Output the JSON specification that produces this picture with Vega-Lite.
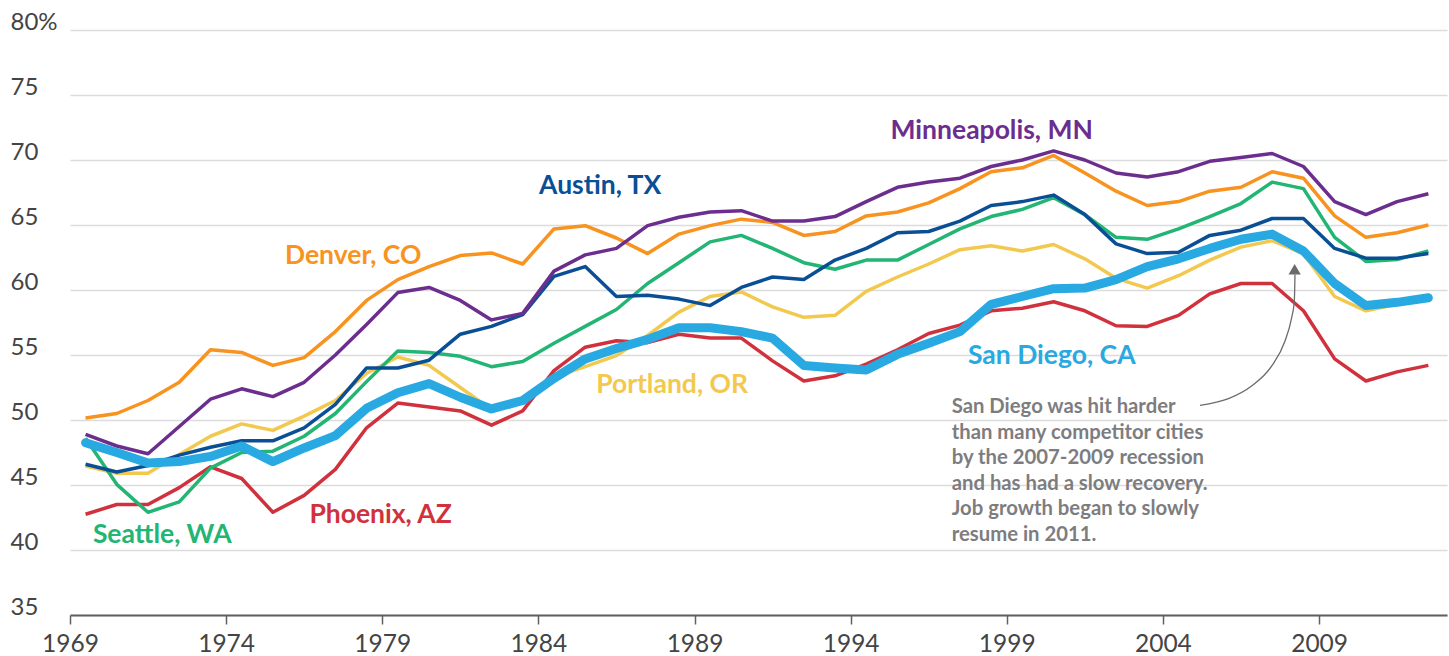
{
"$schema": "https://vega.github.io/schema/vega-lite/v6.json",
"width": 1377, "height": 585,
"autosize": {"type": "none"},
"padding": {"left": 70, "top": 30, "right": 2, "bottom": 41},
"background": "white",
"config": {"view": {"stroke": null}, "font": "Lato"},
"datasets": {
"series": [
{"city":"Phoenix, AZ","date":"1969-07-02","v":42.75},{"city":"Phoenix, AZ","date":"1970-07-02","v":43.5},{"city":"Phoenix, AZ","date":"1971-07-02","v":43.5},{"city":"Phoenix, AZ","date":"1972-07-02","v":44.8},{"city":"Phoenix, AZ","date":"1973-07-02","v":46.4},{"city":"Phoenix, AZ","date":"1974-07-02","v":45.5},{"city":"Phoenix, AZ","date":"1975-07-02","v":42.9},{"city":"Phoenix, AZ","date":"1976-07-02","v":44.2},{"city":"Phoenix, AZ","date":"1977-07-02","v":46.2},{"city":"Phoenix, AZ","date":"1978-07-02","v":49.4},
{"city":"Phoenix, AZ","date":"1979-07-02","v":51.3},{"city":"Phoenix, AZ","date":"1980-07-02","v":51.0},{"city":"Phoenix, AZ","date":"1981-07-02","v":50.7},{"city":"Phoenix, AZ","date":"1982-07-02","v":49.6},{"city":"Phoenix, AZ","date":"1983-07-02","v":50.7},{"city":"Phoenix, AZ","date":"1984-07-02","v":53.8},{"city":"Phoenix, AZ","date":"1985-07-02","v":55.6},{"city":"Phoenix, AZ","date":"1986-07-02","v":56.1},{"city":"Phoenix, AZ","date":"1987-07-02","v":55.95},{"city":"Phoenix, AZ","date":"1988-07-02","v":56.6},
{"city":"Phoenix, AZ","date":"1989-07-02","v":56.3},{"city":"Phoenix, AZ","date":"1990-07-02","v":56.3},{"city":"Phoenix, AZ","date":"1991-07-02","v":54.55},{"city":"Phoenix, AZ","date":"1992-07-02","v":53.0},{"city":"Phoenix, AZ","date":"1993-07-02","v":53.4},{"city":"Phoenix, AZ","date":"1994-07-02","v":54.3},{"city":"Phoenix, AZ","date":"1995-07-02","v":55.4},{"city":"Phoenix, AZ","date":"1996-07-02","v":56.65},{"city":"Phoenix, AZ","date":"1997-07-02","v":57.3},{"city":"Phoenix, AZ","date":"1998-07-02","v":58.4},
{"city":"Phoenix, AZ","date":"1999-07-02","v":58.6},{"city":"Phoenix, AZ","date":"2000-07-02","v":59.1},{"city":"Phoenix, AZ","date":"2001-07-02","v":58.4},{"city":"Phoenix, AZ","date":"2002-07-02","v":57.25},{"city":"Phoenix, AZ","date":"2003-07-02","v":57.2},{"city":"Phoenix, AZ","date":"2004-07-02","v":58.05},{"city":"Phoenix, AZ","date":"2005-07-02","v":59.7},{"city":"Phoenix, AZ","date":"2006-07-02","v":60.5},{"city":"Phoenix, AZ","date":"2007-07-02","v":60.5},{"city":"Phoenix, AZ","date":"2008-07-02","v":58.4},
{"city":"Phoenix, AZ","date":"2009-07-02","v":54.7},{"city":"Phoenix, AZ","date":"2010-07-02","v":53.0},{"city":"Phoenix, AZ","date":"2011-07-02","v":53.7},{"city":"Phoenix, AZ","date":"2012-07-02","v":54.2},

{"city":"Portland, OR","date":"1969-07-02","v":46.45},{"city":"Portland, OR","date":"1970-07-02","v":45.9},{"city":"Portland, OR","date":"1971-07-02","v":45.9},{"city":"Portland, OR","date":"1972-07-02","v":47.35},{"city":"Portland, OR","date":"1973-07-02","v":48.75},{"city":"Portland, OR","date":"1974-07-02","v":49.7},{"city":"Portland, OR","date":"1975-07-02","v":49.2},{"city":"Portland, OR","date":"1976-07-02","v":50.3},{"city":"Portland, OR","date":"1977-07-02","v":51.5},{"city":"Portland, OR","date":"1978-07-02","v":53.6},
{"city":"Portland, OR","date":"1979-07-02","v":54.85},{"city":"Portland, OR","date":"1980-07-02","v":54.2},{"city":"Portland, OR","date":"1981-07-02","v":52.5},{"city":"Portland, OR","date":"1982-07-02","v":50.8},{"city":"Portland, OR","date":"1983-07-02","v":51.3},{"city":"Portland, OR","date":"1984-07-02","v":53.3},{"city":"Portland, OR","date":"1985-07-02","v":54.1},{"city":"Portland, OR","date":"1986-07-02","v":54.95},{"city":"Portland, OR","date":"1987-07-02","v":56.5},{"city":"Portland, OR","date":"1988-07-02","v":58.3},
{"city":"Portland, OR","date":"1989-07-02","v":59.5},{"city":"Portland, OR","date":"1990-07-02","v":59.85},{"city":"Portland, OR","date":"1991-07-02","v":58.7},{"city":"Portland, OR","date":"1992-07-02","v":57.9},{"city":"Portland, OR","date":"1993-07-02","v":58.05},{"city":"Portland, OR","date":"1994-07-02","v":59.9},{"city":"Portland, OR","date":"1995-07-02","v":61.0},{"city":"Portland, OR","date":"1996-07-02","v":62.0},{"city":"Portland, OR","date":"1997-07-02","v":63.1},{"city":"Portland, OR","date":"1998-07-02","v":63.4},
{"city":"Portland, OR","date":"1999-07-02","v":63.0},{"city":"Portland, OR","date":"2000-07-02","v":63.5},{"city":"Portland, OR","date":"2001-07-02","v":62.4},{"city":"Portland, OR","date":"2002-07-02","v":60.9},{"city":"Portland, OR","date":"2003-07-02","v":60.15},{"city":"Portland, OR","date":"2004-07-02","v":61.1},{"city":"Portland, OR","date":"2005-07-02","v":62.3},{"city":"Portland, OR","date":"2006-07-02","v":63.3},{"city":"Portland, OR","date":"2007-07-02","v":63.8},{"city":"Portland, OR","date":"2008-07-02","v":62.8},
{"city":"Portland, OR","date":"2009-07-02","v":59.5},{"city":"Portland, OR","date":"2010-07-02","v":58.4},{"city":"Portland, OR","date":"2011-07-02","v":58.9},{"city":"Portland, OR","date":"2012-07-02","v":59.3},

{"city":"Seattle, WA","date":"1969-07-02","v":48.6},{"city":"Seattle, WA","date":"1970-07-02","v":45.05},{"city":"Seattle, WA","date":"1971-07-02","v":42.9},{"city":"Seattle, WA","date":"1972-07-02","v":43.7},{"city":"Seattle, WA","date":"1973-07-02","v":46.3},{"city":"Seattle, WA","date":"1974-07-02","v":47.5},{"city":"Seattle, WA","date":"1975-07-02","v":47.6},{"city":"Seattle, WA","date":"1976-07-02","v":48.75},{"city":"Seattle, WA","date":"1977-07-02","v":50.5},{"city":"Seattle, WA","date":"1978-07-02","v":52.95},
{"city":"Seattle, WA","date":"1979-07-02","v":55.3},{"city":"Seattle, WA","date":"1980-07-02","v":55.2},{"city":"Seattle, WA","date":"1981-07-02","v":54.9},{"city":"Seattle, WA","date":"1982-07-02","v":54.1},{"city":"Seattle, WA","date":"1983-07-02","v":54.5},{"city":"Seattle, WA","date":"1984-07-02","v":55.9},{"city":"Seattle, WA","date":"1985-07-02","v":57.2},{"city":"Seattle, WA","date":"1986-07-02","v":58.5},{"city":"Seattle, WA","date":"1987-07-02","v":60.5},{"city":"Seattle, WA","date":"1988-07-02","v":62.1},
{"city":"Seattle, WA","date":"1989-07-02","v":63.7},{"city":"Seattle, WA","date":"1990-07-02","v":64.2},{"city":"Seattle, WA","date":"1991-07-02","v":63.2},{"city":"Seattle, WA","date":"1992-07-02","v":62.1},{"city":"Seattle, WA","date":"1993-07-02","v":61.6},{"city":"Seattle, WA","date":"1994-07-02","v":62.3},{"city":"Seattle, WA","date":"1995-07-02","v":62.3},{"city":"Seattle, WA","date":"1996-07-02","v":63.5},{"city":"Seattle, WA","date":"1997-07-02","v":64.7},{"city":"Seattle, WA","date":"1998-07-02","v":65.65},
{"city":"Seattle, WA","date":"1999-07-02","v":66.2},{"city":"Seattle, WA","date":"2000-07-02","v":67.1},{"city":"Seattle, WA","date":"2001-07-02","v":65.8},{"city":"Seattle, WA","date":"2002-07-02","v":64.05},{"city":"Seattle, WA","date":"2003-07-02","v":63.9},{"city":"Seattle, WA","date":"2004-07-02","v":64.7},{"city":"Seattle, WA","date":"2005-07-02","v":65.65},{"city":"Seattle, WA","date":"2006-07-02","v":66.65},{"city":"Seattle, WA","date":"2007-07-02","v":68.3},{"city":"Seattle, WA","date":"2008-07-02","v":67.8},
{"city":"Seattle, WA","date":"2009-07-02","v":64.05},{"city":"Seattle, WA","date":"2010-07-02","v":62.2},{"city":"Seattle, WA","date":"2011-07-02","v":62.35},{"city":"Seattle, WA","date":"2012-07-02","v":63.0},

{"city":"Austin, TX","date":"1969-07-02","v":46.6},{"city":"Austin, TX","date":"1970-07-02","v":46.0},{"city":"Austin, TX","date":"1971-07-02","v":46.5},{"city":"Austin, TX","date":"1972-07-02","v":47.3},{"city":"Austin, TX","date":"1973-07-02","v":47.9},{"city":"Austin, TX","date":"1974-07-02","v":48.4},{"city":"Austin, TX","date":"1975-07-02","v":48.4},{"city":"Austin, TX","date":"1976-07-02","v":49.4},{"city":"Austin, TX","date":"1977-07-02","v":51.2},{"city":"Austin, TX","date":"1978-07-02","v":54.0},
{"city":"Austin, TX","date":"1979-07-02","v":54.0},{"city":"Austin, TX","date":"1980-07-02","v":54.6},{"city":"Austin, TX","date":"1981-07-02","v":56.6},{"city":"Austin, TX","date":"1982-07-02","v":57.2},{"city":"Austin, TX","date":"1983-07-02","v":58.1},{"city":"Austin, TX","date":"1984-07-02","v":61.05},{"city":"Austin, TX","date":"1985-07-02","v":61.8},{"city":"Austin, TX","date":"1986-07-02","v":59.5},{"city":"Austin, TX","date":"1987-07-02","v":59.6},{"city":"Austin, TX","date":"1988-07-02","v":59.3},
{"city":"Austin, TX","date":"1989-07-02","v":58.8},{"city":"Austin, TX","date":"1990-07-02","v":60.2},{"city":"Austin, TX","date":"1991-07-02","v":61.0},{"city":"Austin, TX","date":"1992-07-02","v":60.8},{"city":"Austin, TX","date":"1993-07-02","v":62.3},{"city":"Austin, TX","date":"1994-07-02","v":63.2},{"city":"Austin, TX","date":"1995-07-02","v":64.4},{"city":"Austin, TX","date":"1996-07-02","v":64.5},{"city":"Austin, TX","date":"1997-07-02","v":65.3},{"city":"Austin, TX","date":"1998-07-02","v":66.5},
{"city":"Austin, TX","date":"1999-07-02","v":66.8},{"city":"Austin, TX","date":"2000-07-02","v":67.3},{"city":"Austin, TX","date":"2001-07-02","v":65.8},{"city":"Austin, TX","date":"2002-07-02","v":63.55},{"city":"Austin, TX","date":"2003-07-02","v":62.8},{"city":"Austin, TX","date":"2004-07-02","v":62.9},{"city":"Austin, TX","date":"2005-07-02","v":64.2},{"city":"Austin, TX","date":"2006-07-02","v":64.6},{"city":"Austin, TX","date":"2007-07-02","v":65.5},{"city":"Austin, TX","date":"2008-07-02","v":65.5},
{"city":"Austin, TX","date":"2009-07-02","v":63.2},{"city":"Austin, TX","date":"2010-07-02","v":62.45},{"city":"Austin, TX","date":"2011-07-02","v":62.45},{"city":"Austin, TX","date":"2012-07-02","v":62.8},

{"city":"Denver, CO","date":"1969-07-02","v":50.15},{"city":"Denver, CO","date":"1970-07-02","v":50.5},{"city":"Denver, CO","date":"1971-07-02","v":51.5},{"city":"Denver, CO","date":"1972-07-02","v":52.9},{"city":"Denver, CO","date":"1973-07-02","v":55.4},{"city":"Denver, CO","date":"1974-07-02","v":55.2},{"city":"Denver, CO","date":"1975-07-02","v":54.2},{"city":"Denver, CO","date":"1976-07-02","v":54.8},{"city":"Denver, CO","date":"1977-07-02","v":56.8},{"city":"Denver, CO","date":"1978-07-02","v":59.2},
{"city":"Denver, CO","date":"1979-07-02","v":60.8},{"city":"Denver, CO","date":"1980-07-02","v":61.8},{"city":"Denver, CO","date":"1981-07-02","v":62.65},{"city":"Denver, CO","date":"1982-07-02","v":62.85},{"city":"Denver, CO","date":"1983-07-02","v":62.0},{"city":"Denver, CO","date":"1984-07-02","v":64.7},{"city":"Denver, CO","date":"1985-07-02","v":64.95},{"city":"Denver, CO","date":"1986-07-02","v":64.0},{"city":"Denver, CO","date":"1987-07-02","v":62.8},{"city":"Denver, CO","date":"1988-07-02","v":64.3},
{"city":"Denver, CO","date":"1989-07-02","v":64.95},{"city":"Denver, CO","date":"1990-07-02","v":65.45},{"city":"Denver, CO","date":"1991-07-02","v":65.2},{"city":"Denver, CO","date":"1992-07-02","v":64.2},{"city":"Denver, CO","date":"1993-07-02","v":64.5},{"city":"Denver, CO","date":"1994-07-02","v":65.7},{"city":"Denver, CO","date":"1995-07-02","v":66.0},{"city":"Denver, CO","date":"1996-07-02","v":66.7},{"city":"Denver, CO","date":"1997-07-02","v":67.8},{"city":"Denver, CO","date":"1998-07-02","v":69.1},
{"city":"Denver, CO","date":"1999-07-02","v":69.4},{"city":"Denver, CO","date":"2000-07-02","v":70.35},{"city":"Denver, CO","date":"2001-07-02","v":69.0},{"city":"Denver, CO","date":"2002-07-02","v":67.6},{"city":"Denver, CO","date":"2003-07-02","v":66.5},{"city":"Denver, CO","date":"2004-07-02","v":66.8},{"city":"Denver, CO","date":"2005-07-02","v":67.6},{"city":"Denver, CO","date":"2006-07-02","v":67.9},{"city":"Denver, CO","date":"2007-07-02","v":69.1},{"city":"Denver, CO","date":"2008-07-02","v":68.6},
{"city":"Denver, CO","date":"2009-07-02","v":65.7},{"city":"Denver, CO","date":"2010-07-02","v":64.05},{"city":"Denver, CO","date":"2011-07-02","v":64.4},{"city":"Denver, CO","date":"2012-07-02","v":65.0},

{"city":"Minneapolis, MN","date":"1969-07-02","v":48.9},{"city":"Minneapolis, MN","date":"1970-07-02","v":48.0},{"city":"Minneapolis, MN","date":"1971-07-02","v":47.4},{"city":"Minneapolis, MN","date":"1972-07-02","v":49.5},{"city":"Minneapolis, MN","date":"1973-07-02","v":51.6},{"city":"Minneapolis, MN","date":"1974-07-02","v":52.4},{"city":"Minneapolis, MN","date":"1975-07-02","v":51.8},{"city":"Minneapolis, MN","date":"1976-07-02","v":52.9},{"city":"Minneapolis, MN","date":"1977-07-02","v":55.0},{"city":"Minneapolis, MN","date":"1978-07-02","v":57.35},
{"city":"Minneapolis, MN","date":"1979-07-02","v":59.8},{"city":"Minneapolis, MN","date":"1980-07-02","v":60.2},{"city":"Minneapolis, MN","date":"1981-07-02","v":59.2},{"city":"Minneapolis, MN","date":"1982-07-02","v":57.7},{"city":"Minneapolis, MN","date":"1983-07-02","v":58.2},{"city":"Minneapolis, MN","date":"1984-07-02","v":61.45},{"city":"Minneapolis, MN","date":"1985-07-02","v":62.7},{"city":"Minneapolis, MN","date":"1986-07-02","v":63.2},{"city":"Minneapolis, MN","date":"1987-07-02","v":64.95},{"city":"Minneapolis, MN","date":"1988-07-02","v":65.6},
{"city":"Minneapolis, MN","date":"1989-07-02","v":66.0},{"city":"Minneapolis, MN","date":"1990-07-02","v":66.1},{"city":"Minneapolis, MN","date":"1991-07-02","v":65.3},{"city":"Minneapolis, MN","date":"1992-07-02","v":65.3},{"city":"Minneapolis, MN","date":"1993-07-02","v":65.65},{"city":"Minneapolis, MN","date":"1994-07-02","v":66.8},{"city":"Minneapolis, MN","date":"1995-07-02","v":67.9},{"city":"Minneapolis, MN","date":"1996-07-02","v":68.3},{"city":"Minneapolis, MN","date":"1997-07-02","v":68.6},{"city":"Minneapolis, MN","date":"1998-07-02","v":69.5},
{"city":"Minneapolis, MN","date":"1999-07-02","v":70.0},{"city":"Minneapolis, MN","date":"2000-07-02","v":70.7},{"city":"Minneapolis, MN","date":"2001-07-02","v":70.0},{"city":"Minneapolis, MN","date":"2002-07-02","v":69.0},{"city":"Minneapolis, MN","date":"2003-07-02","v":68.7},{"city":"Minneapolis, MN","date":"2004-07-02","v":69.1},{"city":"Minneapolis, MN","date":"2005-07-02","v":69.9},{"city":"Minneapolis, MN","date":"2006-07-02","v":70.2},{"city":"Minneapolis, MN","date":"2007-07-02","v":70.5},{"city":"Minneapolis, MN","date":"2008-07-02","v":69.5},
{"city":"Minneapolis, MN","date":"2009-07-02","v":66.8},{"city":"Minneapolis, MN","date":"2010-07-02","v":65.8},{"city":"Minneapolis, MN","date":"2011-07-02","v":66.8},{"city":"Minneapolis, MN","date":"2012-07-02","v":67.4},

{"city":"San Diego, CA","date":"1969-07-02","v":48.25},{"city":"San Diego, CA","date":"1970-07-02","v":47.5},{"city":"San Diego, CA","date":"1971-07-02","v":46.7},{"city":"San Diego, CA","date":"1972-07-02","v":46.8},{"city":"San Diego, CA","date":"1973-07-02","v":47.2},{"city":"San Diego, CA","date":"1974-07-02","v":48.0},{"city":"San Diego, CA","date":"1975-07-02","v":46.8},{"city":"San Diego, CA","date":"1976-07-02","v":47.85},{"city":"San Diego, CA","date":"1977-07-02","v":48.8},{"city":"San Diego, CA","date":"1978-07-02","v":50.9},
{"city":"San Diego, CA","date":"1979-07-02","v":52.1},{"city":"San Diego, CA","date":"1980-07-02","v":52.8},{"city":"San Diego, CA","date":"1981-07-02","v":51.75},{"city":"San Diego, CA","date":"1982-07-02","v":50.85},{"city":"San Diego, CA","date":"1983-07-02","v":51.5},{"city":"San Diego, CA","date":"1984-07-02","v":53.2},{"city":"San Diego, CA","date":"1985-07-02","v":54.7},{"city":"San Diego, CA","date":"1986-07-02","v":55.5},{"city":"San Diego, CA","date":"1987-07-02","v":56.2},{"city":"San Diego, CA","date":"1988-07-02","v":57.1},
{"city":"San Diego, CA","date":"1989-07-02","v":57.1},{"city":"San Diego, CA","date":"1990-07-02","v":56.8},{"city":"San Diego, CA","date":"1991-07-02","v":56.3},{"city":"San Diego, CA","date":"1992-07-02","v":54.2},{"city":"San Diego, CA","date":"1993-07-02","v":54.0},{"city":"San Diego, CA","date":"1994-07-02","v":53.85},{"city":"San Diego, CA","date":"1995-07-02","v":55.05},{"city":"San Diego, CA","date":"1996-07-02","v":55.9},{"city":"San Diego, CA","date":"1997-07-02","v":56.8},{"city":"San Diego, CA","date":"1998-07-02","v":58.9},
{"city":"San Diego, CA","date":"1999-07-02","v":59.5},{"city":"San Diego, CA","date":"2000-07-02","v":60.1},{"city":"San Diego, CA","date":"2001-07-02","v":60.15},{"city":"San Diego, CA","date":"2002-07-02","v":60.8},{"city":"San Diego, CA","date":"2003-07-02","v":61.8},{"city":"San Diego, CA","date":"2004-07-02","v":62.4},{"city":"San Diego, CA","date":"2005-07-02","v":63.2},{"city":"San Diego, CA","date":"2006-07-02","v":63.9},{"city":"San Diego, CA","date":"2007-07-02","v":64.3},{"city":"San Diego, CA","date":"2008-07-02","v":63.0},
{"city":"San Diego, CA","date":"2009-07-02","v":60.5},{"city":"San Diego, CA","date":"2010-07-02","v":58.8},{"city":"San Diego, CA","date":"2011-07-02","v":59.05},{"city":"San Diego, CA","date":"2012-07-02","v":59.4}
],
"labels": [
{"city":"Denver, CO","date":"1978-01-26","v":62.03},
{"city":"Austin, TX","date":"1985-12-24","v":67.39},
{"city":"Minneapolis, MN","date":"1998-07-09","v":71.65},
{"city":"Portland, OR","date":"1988-04-13","v":52.07},
{"city":"San Diego, CA","date":"2000-06-10","v":54.3},
{"city":"Phoenix, AZ","date":"1978-12-13","v":42.04},
{"city":"Seattle, WA","date":"1971-12-16","v":40.54}
],
"note": [
{"date":"1997-03-28","v":50.54,"text":"San Diego was hit harder\nthan many competitor cities\nby the 2007-2009 recession\nand has had a slow recovery.\nJob growth began to slowly\nresume in 2011."}
],
"arrow": [
{"date":"2005-03-10","v":51.13},
{"date":"2006-02-06","v":51.64},
{"date":"2006-11-03","v":52.61},
{"date":"2007-06-25","v":54.14},
{"date":"2007-11-28","v":56.06},
{"date":"2008-02-14","v":57.84},
{"date":"2008-03-17","v":59.12},
{"date":"2008-03-25","v":61.19}
],
"head": [
{"date":"2008-03-21","v":61.6}
]
},
"encoding": {
"x": {"field": "date", "type": "temporal", "title": null,
 "scale": {"type": "utc", "domain": [{"year": 1969, "month": 1, "date": 1, "utc": true}, {"year": 2013, "month": 2, "date": 5, "utc": true}]},
 "axis": {"values": [{"year": 1969, "month": 1, "date": 1, "utc": true}, {"year": 1974, "month": 1, "date": 1, "utc": true}, {"year": 1979, "month": 1, "date": 1, "utc": true}, {"year": 1984, "month": 1, "date": 1, "utc": true}, {"year": 1989, "month": 1, "date": 1, "utc": true}, {"year": 1994, "month": 1, "date": 1, "utc": true}, {"year": 1999, "month": 1, "date": 1, "utc": true}, {"year": 2004, "month": 1, "date": 1, "utc": true}, {"year": 2009, "month": 1, "date": 1, "utc": true}],
  "labelExpr": "utcFormat(datum.value, '%Y')",
  "grid": false, "domainColor": "#606060", "domainWidth": 2, "tickColor": "#606060", "tickWidth": 1.5, "tickSize": 9,
  "labelFontSize": 24.5, "labelColor": "#444444", "labelPadding": 8, "labelFlush": false, "labelOverlap": false, "labelFont": "Lato"}},
"y": {"field": "v", "type": "quantitative", "title": null,
 "scale": {"domain": [35, 80], "nice": false, "zero": false},
 "axis": {"values": [35, 40, 45, 50, 55, 60, 65, 70, 75, 80],
  "labelExpr": "datum.value == 80 ? '80%' : datum.label",
  "grid": true, "gridColor": "#dcdcdc", "gridWidth": 1.5, "domain": false, "ticks": false,
  "labelAlign": "left", "labelPadding": 60, "labelBaseline": "alphabetic", "labelOffset": -1,
  "labelFontSize": 24, "labelColor": "#444444", "labelFlush": false, "labelOverlap": false, "labelFont": "Lato"}}
},
"layer": [
{"data": {"name": "series"}, "transform": [{"filter": "datum.city != 'San Diego, CA'"}],
 "mark": {"type": "line", "strokeWidth": 3.5, "strokeJoin": "round"},
 "encoding": {"color": {"field": "city", "type": "nominal", "legend": null,
  "scale": {"domain": ["Phoenix, AZ", "Portland, OR", "Seattle, WA", "Austin, TX", "Denver, CO", "Minneapolis, MN", "San Diego, CA"],
   "range": ["#D0313D", "#F2C94E", "#22B573", "#0A4F96", "#F7931E", "#6B2E8F", "#29A9E1"]}}}},
{"data": {"name": "series"}, "transform": [{"filter": "datum.city == 'San Diego, CA'"}],
 "mark": {"type": "line", "strokeWidth": 9, "strokeCap": "round", "strokeJoin": "round", "color": "#29A9E1"}},
{"data": {"name": "arrow"}, "mark": {"type": "line", "strokeWidth": 1.3, "color": "#6b6b6b", "interpolate": "monotone"}},
{"data": {"name": "head"}, "mark": {"type": "point", "shape": "triangle-up", "filled": true, "size": 150, "color": "#6b6b6b", "opacity": 1}},
{"data": {"name": "labels"}, "mark": {"type": "text", "font": "Lato", "fontWeight": "bold", "fontSize": 26.5, "align": "center", "baseline": "alphabetic"},
 "encoding": {"text": {"field": "city"}, "color": {"field": "city", "type": "nominal", "legend": null}}},
{"data": {"name": "note"}, "mark": {"type": "text", "font": "Lato", "fontWeight": "bold", "fontSize": 20.3, "align": "left", "baseline": "alphabetic", "lineBreak": "\n", "lineHeight": 25.6, "color": "#7d7d7f"},
 "encoding": {"text": {"field": "text"}}}
]
}
